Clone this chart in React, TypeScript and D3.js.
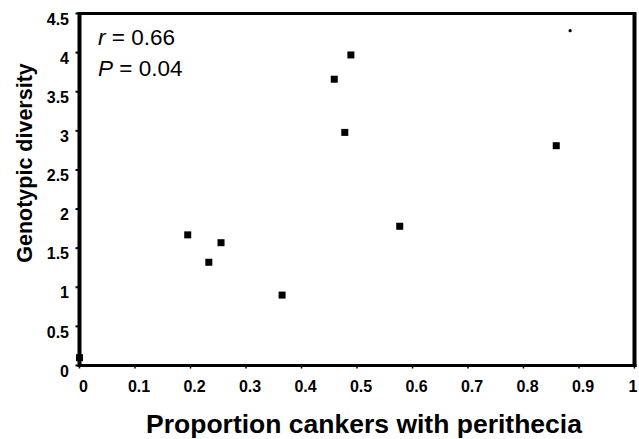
import React from "react";
import * as d3 from "d3";

const proportion = [0, 0.195, 0.233, 0.255, 0.365, 0.459, 0.489, 0.478, 0.577, 0.859];
const diversity = [0.1, 1.67, 1.32, 1.57, 0.9, 3.66, 3.97, 2.98, 1.78, 2.81];
const strayX = [0.884];
const strayY = [4.28];
const xTicks = [0, 0.1, 0.2, 0.3, 0.4, 0.5, 0.6, 0.7, 0.8, 0.9, 1];
const yTicks = [0, 0.5, 1, 1.5, 2, 2.5, 3, 3.5, 4, 4.5];

const W = 639;
const H = 439;

export default function App() {
  const x = d3.scaleLinear().domain([0, 1]).range([79.5, 634.5]);
  const y = d3.scaleLinear().domain([0, 4.5]).range([365.5, 13.5]);
  const font = "Arial, 'Liberation Sans', Helvetica, sans-serif";
  const ms = 7;
  return (
    <svg
      width={W}
      height={H}
      style={{ position: "absolute", left: 0, top: 0, background: "#fff" }}
      fontFamily={font}
    >
      <rect x={0} y={0} width={W} height={H} fill="#fff" />
      {/* frame */}
      <line x1={x(0)} x2={x(1)} y1={y(4.5)} y2={y(4.5)} stroke="#000" strokeWidth={3} />
      <line x1={x(1)} x2={x(1)} y1={y(4.5) - 1.5} y2={y(0) + 1.5} stroke="#000" strokeWidth={4} />
      <line x1={x(0)} x2={x(1) + 2} y1={y(0)} y2={y(0)} stroke="#000" strokeWidth={3} />
      <line x1={x(0)} x2={x(0)} y1={y(4.5) - 1.5} y2={y(0) + 1.5} stroke="#000" strokeWidth={4} />
      {/* y ticks */}
      {yTicks.map((t) => (
        <g key={"y" + t}>
          <line x1={x(0) - 4} x2={x(0)} y1={y(t)} y2={y(t)} stroke="#000" strokeWidth={2} />
          <text
            x={69}
            y={y(t) + 7}
            textAnchor="end"
            dominantBaseline="middle"
            fontSize={16}
            fontWeight="bold"
          >
            {d3.format("")(t)}
          </text>
        </g>
      ))}
      {/* x ticks */}
      {xTicks.map((t) => (
        <g key={"x" + t}>
          <line x1={x(t)} x2={x(t)} y1={y(0)} y2={y(0) + 3} stroke="#000" strokeWidth={1.5} />
          <text
            x={Math.min(x(t) + 4, 633)}
            y={392}
            textAnchor="middle"
            fontSize={16}
            fontWeight="bold"
          >
            {d3.format("")(t)}
          </text>
        </g>
      ))}
      {/* points */}
      {proportion.map((p, i) => (
        <rect
          key={"p" + i}
          x={x(p) - ms / 2}
          y={y(diversity[i]) - ms / 2}
          width={ms}
          height={ms}
          fill="#000"
        />
      ))}
      {strayX.map((p, i) => (
        <circle key={"s" + i} cx={x(p)} cy={y(strayY[i])} r={1.6} fill="#000" />
      ))}
      {/* stats */}
      <text x={98} y={45} fontSize={22.5}>
        <tspan fontStyle="italic">r</tspan>
        <tspan> = 0.66</tspan>
      </text>
      <text x={98} y={76} fontSize={22.5}>
        <tspan fontStyle="italic">P</tspan>
        <tspan> = 0.04</tspan>
      </text>
      {/* axis titles */}
      <text
        x={364}
        y={433}
        textAnchor="middle"
        fontSize={26.5}
        fontWeight="bold"
      >
        Proportion cankers with perithecia
      </text>
      <text
        transform={`translate(32, 163) rotate(-90)`}
        textAnchor="middle"
        fontSize={21.5}
        fontWeight="bold"
      >
        Genotypic diversity
      </text>
    </svg>
  );
}
